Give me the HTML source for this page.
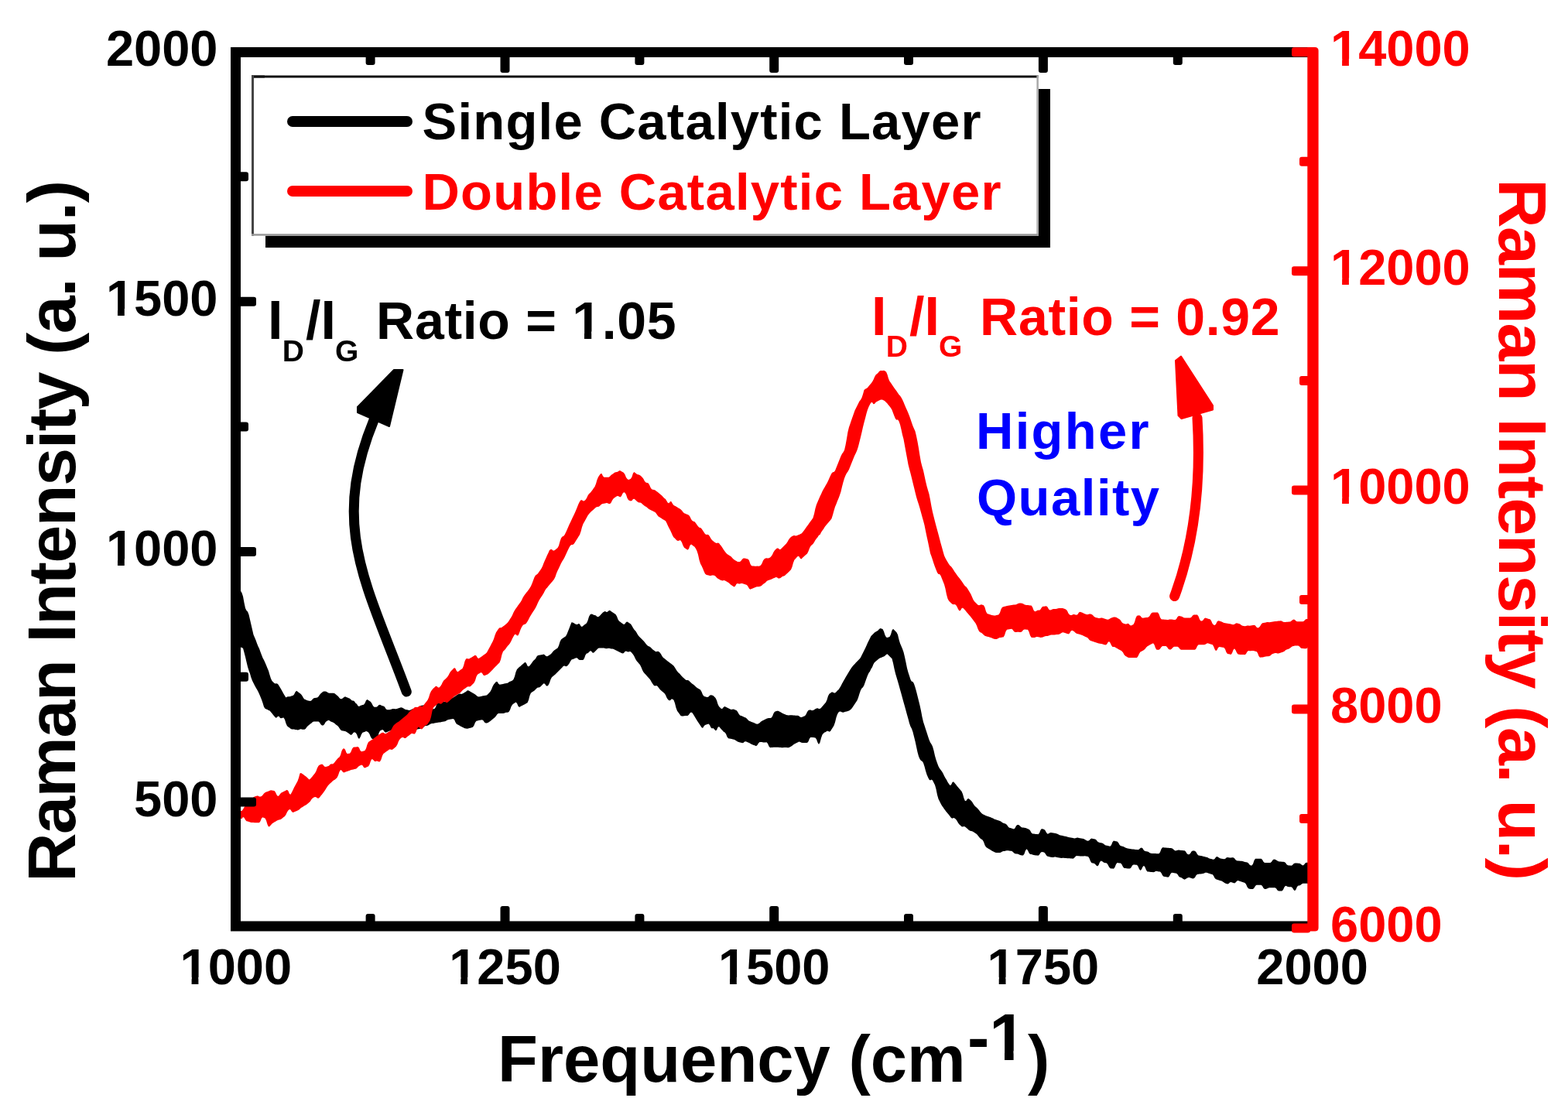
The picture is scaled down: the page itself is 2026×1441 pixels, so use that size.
<!DOCTYPE html>
<html><head><meta charset="utf-8"><title>Raman spectra</title>
<style>
html,body{margin:0;padding:0;background:#fff;overflow:hidden;width:2026px;height:1441px;}
svg{display:block;}
</style></head>
<body>
<svg width="2026" height="1441" viewBox="0 0 2026 1441">
<rect width="2026" height="1441" fill="#fff"/>
<!-- legend -->
<rect x="343" y="115" width="1014" height="205" fill="#000"/>
<rect x="325" y="97.5" width="1017" height="207.2" fill="#fff"/>
<rect x="325" y="97.5" width="16.9" height="3" fill="#111"/><rect x="325" y="97.5" width="1016.9" height="3" fill="#111"/>
<rect x="325" y="97.5" width="3" height="207.2" fill="#444"/>
<rect x="1339.4" y="97.5" width="2.5" height="207.2" fill="#aaa"/>
<rect x="325" y="302.2" width="1016.9" height="2.5" fill="#999"/>
<line x1="378" y1="157" x2="526" y2="157" stroke="#000" stroke-width="14" stroke-linecap="round"/>
<line x1="378" y1="247" x2="526" y2="247" stroke="#f00" stroke-width="14" stroke-linecap="round"/>
<g font-family="'Liberation Sans', Arial, sans-serif" font-weight="bold" font-size="67" letter-spacing="1.23">
<text x="545.5" y="180">Single Catalytic Layer</text>
<text x="545.5" y="271" fill="#f00">Double Catalytic Layer</text>
</g>
<!-- data -->
<g stroke-width="14" stroke-linejoin="round" stroke-linecap="round">
<polygon fill="#000" points="305.0,759.3 306.5,760.7 308.0,761.7 309.5,762.7 311.0,763.7 312.5,766.3 314.0,770.7 315.5,779.1 317.0,785.9 318.5,789.1 320.0,790.4 321.5,794.2 323.0,800.7 324.5,807.2 326.0,813.7 327.5,820.2 329.0,823.7 330.5,827.3 332.0,831.6 333.5,835.2 335.0,838.2 336.5,842.4 338.0,846.6 339.5,850.2 341.0,853.0 342.5,856.2 344.0,859.8 345.5,863.4 347.0,867.0 348.5,872.2 350.0,877.0 351.5,880.1 353.0,881.6 354.5,883.1 356.0,883.6 357.5,883.3 359.0,884.1 360.5,886.2 362.0,888.7 363.5,891.3 365.0,893.9 366.5,896.7 368.0,899.3 369.5,901.4 371.0,900.6 372.5,900.2 374.0,900.3 375.5,899.9 377.0,899.3 378.5,899.0 380.0,897.4 381.5,894.4 383.0,892.8 384.5,893.7 386.0,894.9 387.5,896.0 389.0,897.2 390.5,899.3 392.0,902.0 393.5,903.7 395.0,904.3 396.5,905.0 398.0,905.4 399.5,905.7 401.0,906.0 402.5,905.3 404.0,903.5 405.5,902.3 407.0,902.0 408.5,901.7 410.0,901.4 411.5,900.3 413.0,898.0 414.5,896.2 416.0,895.0 417.5,893.8 419.0,893.4 420.5,893.4 422.0,894.0 423.5,895.1 425.0,895.7 426.5,895.7 428.0,895.8 429.5,895.8 431.0,895.8 432.5,896.3 434.0,897.5 435.5,898.8 437.0,900.0 438.5,902.0 440.0,903.2 441.5,903.3 443.0,902.3 444.5,901.0 446.0,900.3 447.5,900.9 449.0,901.6 450.5,902.2 452.0,902.8 453.5,904.3 455.0,905.4 456.5,905.5 458.0,906.6 459.5,908.7 461.0,909.7 462.5,912.2 464.0,913.0 465.5,912.1 467.0,911.4 468.5,911.1 470.0,910.8 471.5,908.8 473.0,905.2 474.5,904.1 476.0,905.0 477.5,906.0 479.0,906.9 480.5,909.3 482.0,912.2 483.5,913.7 485.0,913.7 486.5,913.7 488.0,912.8 489.5,911.1 491.0,910.7 492.5,911.5 494.0,912.3 495.5,912.4 497.0,913.6 498.5,916.0 500.0,917.2 501.5,917.2 503.0,917.2 504.5,917.1 506.0,916.6 507.5,916.1 509.0,916.0 510.5,916.3 512.0,916.2 513.5,915.8 515.0,915.2 516.5,914.7 518.0,914.2 519.5,914.6 521.0,915.3 522.5,916.3 524.0,917.0 525.5,917.3 527.0,917.6 528.5,918.0 530.0,917.7 531.5,916.9 533.0,916.2 534.5,916.0 536.0,916.3 537.5,917.1 539.0,917.4 540.5,916.0 542.0,913.4 543.5,911.9 545.0,911.7 546.5,911.6 548.0,911.5 549.5,911.4 551.0,912.7 552.5,915.4 554.0,916.7 555.5,916.6 557.0,916.5 558.5,916.4 560.0,916.2 561.5,916.1 563.0,913.8 564.5,909.2 566.0,906.9 567.5,906.8 569.0,906.6 570.5,906.5 572.0,906.3 573.5,906.7 575.0,907.0 576.5,906.7 578.0,905.6 579.5,904.6 581.0,903.6 582.5,902.8 584.0,902.2 585.5,901.4 587.0,900.4 588.5,899.4 590.0,898.5 591.5,897.6 593.0,896.7 594.5,896.5 596.0,896.9 597.5,896.6 599.0,895.7 600.5,894.8 602.0,893.9 603.5,892.5 605.0,892.2 606.5,893.1 608.0,893.9 609.5,894.8 611.0,895.7 612.5,896.6 614.0,897.5 615.5,898.7 617.0,900.0 618.5,900.5 620.0,900.2 621.5,899.9 623.0,899.6 624.5,899.3 626.0,899.0 627.5,898.8 629.0,898.6 630.5,897.1 632.0,895.5 633.5,893.8 635.0,891.1 636.5,887.2 638.0,884.4 639.5,882.8 641.0,881.1 642.5,881.0 644.0,883.6 645.5,884.8 647.0,884.5 648.5,884.2 650.0,883.9 651.5,883.6 653.0,883.3 654.5,883.0 656.0,882.7 657.5,881.6 659.0,880.7 660.5,880.3 662.0,879.4 663.5,877.9 665.0,874.3 666.5,868.6 668.0,865.0 669.5,863.5 671.0,862.1 672.5,860.9 674.0,859.6 675.5,858.3 677.0,857.0 678.5,855.8 680.0,856.9 681.5,860.4 683.0,861.5 684.5,860.2 686.0,858.2 687.5,856.2 689.0,854.1 690.5,852.7 692.0,851.2 693.5,848.6 695.0,847.1 696.5,846.8 698.0,846.5 699.5,846.2 701.0,845.9 702.5,845.6 704.0,846.5 705.5,848.0 707.0,848.3 708.5,847.4 710.0,846.5 711.5,845.6 713.0,844.1 714.5,841.9 716.0,840.4 717.5,839.5 719.0,838.5 720.5,837.4 722.0,834.4 723.5,829.4 725.0,826.4 726.5,825.3 728.0,824.3 729.5,823.2 731.0,822.2 732.5,819.5 734.0,815.7 735.5,811.9 737.0,808.1 738.5,804.2 740.0,804.5 741.5,805.3 743.0,806.3 744.5,807.1 746.0,807.1 747.5,805.9 749.0,806.6 750.5,809.3 752.0,810.0 753.5,808.8 755.0,807.6 756.5,806.4 758.0,805.2 759.5,802.0 761.0,797.1 762.5,794.3 764.0,793.6 765.5,793.7 767.0,794.8 768.5,795.0 770.0,795.4 771.5,796.9 773.0,797.2 774.5,796.3 776.0,794.8 777.5,792.9 779.0,791.4 780.5,790.5 782.0,790.0 783.5,791.1 785.0,790.8 786.5,789.2 788.0,788.8 789.5,789.9 791.0,791.0 792.5,792.0 794.0,793.1 795.5,794.1 797.0,796.5 798.5,800.4 800.0,802.8 801.5,803.8 803.0,804.9 804.5,805.9 806.0,807.0 807.5,806.3 809.0,804.0 810.5,803.4 812.0,804.4 813.5,805.5 815.0,806.5 816.5,808.7 818.0,811.6 819.5,813.8 821.0,815.3 822.5,817.4 824.0,820.2 825.5,822.3 827.0,823.8 828.5,825.3 830.0,826.8 831.5,828.3 833.0,830.1 834.5,832.1 836.0,833.8 837.5,834.9 839.0,835.5 840.5,836.5 842.0,838.0 843.5,839.4 845.0,840.6 846.5,841.8 848.0,842.2 849.5,841.7 851.0,842.0 852.5,843.2 854.0,845.2 855.5,847.9 857.0,849.9 858.5,851.1 860.0,852.3 861.5,853.5 863.0,854.7 864.5,855.8 866.0,856.9 867.5,858.1 869.0,859.3 870.5,860.6 872.0,862.8 873.5,865.3 875.0,867.5 876.5,869.2 878.0,870.5 879.5,872.2 881.0,873.9 882.5,875.4 884.0,876.8 885.5,878.3 887.0,879.0 888.5,878.9 890.0,879.6 891.5,881.1 893.0,882.6 894.5,883.8 896.0,884.7 897.5,886.0 899.0,887.6 900.5,888.8 902.0,889.7 903.5,890.6 905.0,891.5 906.5,893.9 908.0,897.8 909.5,899.8 911.0,900.2 912.5,900.7 914.0,901.1 915.5,900.5 917.0,898.8 918.5,898.2 920.0,898.6 921.5,899.1 923.0,900.5 924.5,902.0 926.0,905.1 927.5,909.9 929.0,913.1 930.5,914.6 932.0,916.0 933.5,915.8 935.0,913.8 936.5,913.1 938.0,913.8 939.5,914.6 941.0,915.3 942.5,916.1 944.0,916.8 945.5,917.0 947.0,916.6 948.5,916.8 950.0,917.4 951.5,918.0 953.0,919.8 954.5,922.6 956.0,924.4 957.5,925.0 959.0,925.6 960.5,926.2 962.0,926.9 963.5,927.6 965.0,928.8 966.5,930.5 968.0,931.7 969.5,932.3 971.0,932.9 972.5,933.5 974.0,934.1 975.5,934.7 977.0,935.6 978.5,935.7 980.0,935.3 981.5,934.2 983.0,932.8 984.5,931.7 986.0,931.0 987.5,930.2 989.0,929.5 990.5,928.7 992.0,928.2 993.5,928.0 995.0,928.0 996.5,927.8 998.0,925.7 999.5,921.9 1001.0,919.8 1002.5,919.3 1004.0,918.8 1005.5,918.8 1007.0,919.4 1008.5,920.2 1010.0,921.3 1011.5,922.1 1013.0,922.7 1014.5,923.3 1016.0,923.9 1017.5,924.3 1019.0,924.4 1020.5,924.2 1022.0,924.2 1023.5,924.2 1025.0,924.4 1026.5,924.6 1028.0,924.8 1029.5,924.8 1031.0,924.8 1032.5,925.6 1034.0,926.8 1035.5,927.1 1037.0,926.4 1038.5,925.8 1040.0,925.2 1041.5,923.3 1043.0,920.0 1044.5,918.1 1046.0,917.5 1047.5,917.5 1049.0,918.2 1050.5,918.1 1052.0,917.2 1053.5,916.3 1055.0,915.4 1056.5,915.3 1058.0,916.0 1059.5,915.9 1061.0,914.7 1062.5,913.0 1064.0,911.2 1065.5,909.5 1067.0,907.8 1068.5,904.4 1070.0,899.4 1071.5,896.7 1073.0,895.7 1074.5,894.6 1076.0,894.6 1077.5,895.6 1079.0,895.6 1080.5,894.3 1082.0,892.6 1083.5,891.3 1085.0,889.1 1086.5,886.4 1088.0,883.5 1089.5,880.7 1091.0,878.2 1092.5,875.6 1094.0,873.1 1095.5,870.5 1097.0,868.0 1098.5,865.5 1100.0,863.2 1101.5,861.2 1103.0,859.6 1104.5,857.9 1106.0,856.2 1107.5,854.7 1109.0,853.2 1110.5,851.7 1112.0,849.7 1113.5,846.7 1115.0,843.7 1116.5,840.7 1118.0,837.7 1119.5,834.5 1121.0,831.1 1122.5,827.9 1124.0,824.9 1125.5,821.9 1127.0,820.4 1128.5,818.9 1130.0,817.4 1131.5,816.4 1133.0,815.8 1134.5,814.7 1136.0,812.9 1137.5,812.1 1139.0,812.5 1140.5,813.1 1142.0,815.9 1143.5,820.8 1145.0,823.6 1146.5,824.0 1148.0,823.5 1149.5,822.9 1151.0,820.0 1152.5,814.7 1154.0,812.7 1155.5,814.2 1157.0,815.7 1158.5,817.2 1160.0,820.2 1161.5,826.4 1163.0,831.4 1164.5,835.0 1166.0,838.5 1167.5,842.7 1169.0,849.1 1170.5,856.1 1172.0,863.6 1173.5,868.9 1175.0,873.6 1176.5,878.2 1178.0,880.7 1179.5,881.1 1181.0,883.7 1182.5,888.3 1184.0,893.5 1185.5,899.5 1187.0,905.5 1188.5,911.5 1190.0,918.6 1191.5,926.6 1193.0,933.0 1194.5,937.6 1196.0,942.2 1197.5,946.8 1199.0,951.4 1200.5,956.0 1202.0,959.4 1203.5,961.7 1205.0,964.8 1206.5,970.1 1208.0,976.8 1209.5,982.1 1211.0,986.2 1212.5,990.2 1214.0,992.9 1215.5,994.9 1217.0,997.0 1218.5,999.6 1220.0,1002.7 1221.5,1005.4 1223.0,1007.8 1224.5,1010.8 1226.0,1013.1 1227.5,1014.9 1229.0,1014.2 1230.5,1010.9 1232.0,1010.2 1233.5,1011.9 1235.0,1013.8 1236.5,1015.7 1238.0,1017.6 1239.5,1019.3 1241.0,1021.1 1242.5,1022.7 1244.0,1026.2 1245.5,1031.8 1247.0,1035.2 1248.5,1034.7 1250.0,1032.4 1251.5,1031.9 1253.0,1033.2 1254.5,1034.6 1256.0,1036.3 1257.5,1038.8 1259.0,1041.1 1260.5,1042.6 1262.0,1043.7 1263.5,1045.2 1265.0,1047.0 1266.5,1048.9 1268.0,1050.7 1269.5,1052.1 1271.0,1052.8 1272.5,1053.5 1274.0,1054.2 1275.5,1054.7 1277.0,1055.3 1278.5,1055.8 1280.0,1056.3 1281.5,1056.9 1283.0,1057.6 1284.5,1058.4 1286.0,1059.1 1287.5,1059.6 1289.0,1060.1 1290.5,1060.5 1292.0,1061.0 1293.5,1061.8 1295.0,1062.9 1296.5,1063.7 1298.0,1064.2 1299.5,1064.7 1301.0,1066.0 1302.5,1068.3 1304.0,1069.7 1305.5,1070.1 1307.0,1070.6 1308.5,1071.0 1310.0,1071.5 1311.5,1070.2 1313.0,1067.2 1314.5,1065.9 1316.0,1066.1 1317.5,1067.0 1319.0,1068.5 1320.5,1069.4 1322.0,1069.6 1323.5,1069.7 1325.0,1069.9 1326.5,1070.4 1328.0,1071.2 1329.5,1071.7 1331.0,1073.2 1332.5,1076.0 1334.0,1077.5 1335.5,1077.6 1337.0,1077.8 1338.5,1077.9 1340.0,1078.1 1341.5,1078.2 1343.0,1076.4 1344.5,1072.8 1346.0,1071.1 1347.5,1071.4 1349.0,1071.7 1350.5,1073.3 1352.0,1076.1 1353.5,1077.7 1355.0,1077.3 1356.5,1076.3 1358.0,1075.9 1359.5,1076.2 1361.0,1076.5 1362.5,1076.8 1364.0,1077.1 1365.5,1077.4 1367.0,1078.0 1368.5,1078.9 1370.0,1079.5 1371.5,1079.8 1373.0,1080.1 1374.5,1080.4 1376.0,1080.7 1377.5,1081.1 1379.0,1081.5 1380.5,1081.9 1382.0,1082.2 1383.5,1082.5 1385.0,1082.8 1386.5,1083.1 1388.0,1083.4 1389.5,1083.2 1391.0,1082.7 1392.5,1082.6 1394.0,1082.9 1395.5,1083.2 1397.0,1083.5 1398.5,1083.8 1400.0,1084.1 1401.5,1084.7 1403.0,1085.8 1404.5,1086.4 1406.0,1086.7 1407.5,1086.0 1409.0,1084.3 1410.5,1083.6 1412.0,1083.9 1413.5,1084.2 1415.0,1084.4 1416.5,1085.5 1418.0,1087.5 1419.5,1088.6 1421.0,1088.9 1422.5,1089.2 1424.0,1089.4 1425.5,1090.3 1427.0,1091.6 1428.5,1092.5 1430.0,1092.8 1431.5,1093.0 1433.0,1093.4 1434.5,1093.7 1436.0,1092.0 1437.5,1088.3 1439.0,1086.6 1440.5,1087.0 1442.0,1087.3 1443.5,1087.6 1445.0,1089.1 1446.5,1091.8 1448.0,1093.3 1449.5,1093.6 1451.0,1093.9 1452.5,1094.5 1454.0,1095.5 1455.5,1096.1 1457.0,1096.4 1458.5,1096.7 1460.0,1097.0 1461.5,1097.3 1463.0,1097.4 1464.5,1097.6 1466.0,1097.8 1467.5,1097.9 1469.0,1098.1 1470.5,1098.2 1472.0,1097.5 1473.5,1096.0 1475.0,1095.4 1476.5,1096.6 1478.0,1098.9 1479.5,1100.1 1481.0,1100.3 1482.5,1100.4 1484.0,1101.1 1485.5,1102.2 1487.0,1102.8 1488.5,1103.0 1490.0,1103.1 1491.5,1103.1 1493.0,1103.1 1494.5,1103.2 1496.0,1103.2 1497.5,1103.3 1499.0,1101.3 1500.5,1097.2 1502.0,1095.2 1503.5,1095.3 1505.0,1095.4 1506.5,1095.5 1508.0,1095.7 1509.5,1095.8 1511.0,1096.0 1512.5,1096.1 1514.0,1096.3 1515.5,1097.1 1517.0,1098.6 1518.5,1099.4 1520.0,1099.3 1521.5,1098.7 1523.0,1098.6 1524.5,1098.7 1526.0,1098.9 1527.5,1099.0 1529.0,1099.2 1530.5,1099.3 1532.0,1100.6 1533.5,1102.9 1535.0,1104.2 1536.5,1104.3 1538.0,1103.1 1539.5,1100.6 1541.0,1099.4 1542.5,1099.6 1544.0,1099.7 1545.5,1101.2 1547.0,1104.1 1548.5,1105.6 1550.0,1105.7 1551.5,1105.9 1553.0,1106.2 1554.5,1106.8 1556.0,1107.1 1557.5,1107.4 1559.0,1107.7 1560.5,1108.3 1562.0,1109.2 1563.5,1109.8 1565.0,1110.1 1566.5,1110.4 1568.0,1110.7 1569.5,1109.9 1571.0,1107.8 1572.5,1107.0 1574.0,1107.7 1575.5,1108.7 1577.0,1109.4 1578.5,1109.7 1580.0,1110.0 1581.5,1110.3 1583.0,1109.9 1584.5,1108.6 1586.0,1108.1 1587.5,1108.3 1589.0,1108.4 1590.5,1108.4 1592.0,1108.3 1593.5,1108.3 1595.0,1109.3 1596.5,1111.2 1598.0,1112.2 1599.5,1112.4 1601.0,1112.5 1602.5,1112.7 1604.0,1112.8 1605.5,1113.0 1607.0,1113.4 1608.5,1114.0 1610.0,1114.3 1611.5,1114.5 1613.0,1115.6 1614.5,1117.6 1616.0,1118.6 1617.5,1118.6 1619.0,1116.4 1620.5,1112.0 1622.0,1109.8 1623.5,1109.8 1625.0,1109.8 1626.5,1109.8 1628.0,1109.8 1629.5,1109.8 1631.0,1111.1 1632.5,1113.7 1634.0,1115.0 1635.5,1115.0 1637.0,1115.0 1638.5,1115.0 1640.0,1115.0 1641.5,1115.0 1643.0,1113.8 1644.5,1111.6 1646.0,1110.5 1647.5,1110.7 1649.0,1111.4 1650.5,1112.6 1652.0,1113.2 1653.5,1113.4 1655.0,1113.5 1656.5,1113.7 1658.0,1113.8 1659.5,1113.9 1661.0,1115.1 1662.5,1117.2 1664.0,1118.3 1665.5,1118.4 1667.0,1118.6 1668.5,1118.7 1670.0,1118.0 1671.5,1116.3 1673.0,1115.6 1674.5,1115.6 1676.0,1115.6 1677.5,1115.7 1679.0,1115.7 1680.5,1116.4 1682.0,1117.7 1683.5,1118.4 1685.0,1117.5 1686.5,1115.6 1688.0,1114.7 1689.5,1114.8 1691.0,1114.8 1692.5,1114.8 1694.0,1114.1 1694.0,1149.6 1692.5,1147.0 1691.0,1143.6 1689.5,1141.8 1688.0,1141.8 1686.5,1141.8 1685.0,1141.8 1683.5,1141.8 1682.0,1142.5 1680.5,1143.7 1679.0,1144.4 1677.5,1144.4 1676.0,1146.1 1674.5,1149.6 1673.0,1151.3 1671.5,1150.1 1670.0,1147.6 1668.5,1146.3 1667.0,1146.3 1665.5,1146.3 1664.0,1145.9 1662.5,1145.2 1661.0,1144.8 1659.5,1146.5 1658.0,1149.7 1656.5,1151.4 1655.0,1151.4 1653.5,1151.4 1652.0,1151.4 1650.5,1150.4 1649.0,1148.3 1647.5,1147.2 1646.0,1147.2 1644.5,1147.2 1643.0,1147.2 1641.5,1147.2 1640.0,1147.2 1638.5,1147.7 1637.0,1148.5 1635.5,1149.0 1634.0,1149.0 1632.5,1147.7 1631.0,1145.1 1629.5,1143.8 1628.0,1143.8 1626.5,1143.8 1625.0,1143.8 1623.5,1143.8 1622.0,1145.1 1620.5,1147.6 1619.0,1148.9 1617.5,1148.9 1616.0,1148.9 1614.5,1148.8 1613.0,1148.3 1611.5,1146.3 1610.0,1142.8 1608.5,1140.9 1607.0,1140.4 1605.5,1139.9 1604.0,1139.4 1602.5,1138.9 1601.0,1138.4 1599.5,1138.0 1598.0,1138.7 1596.5,1140.6 1595.0,1141.4 1593.5,1140.9 1592.0,1140.5 1590.5,1140.0 1589.0,1140.5 1587.5,1141.9 1586.0,1142.4 1584.5,1141.9 1583.0,1141.4 1581.5,1140.6 1580.0,1139.5 1578.5,1138.6 1577.0,1138.2 1575.5,1137.7 1574.0,1137.3 1572.5,1136.8 1571.0,1136.3 1569.5,1134.7 1568.0,1131.8 1566.5,1130.1 1565.0,1129.7 1563.5,1129.2 1562.0,1128.7 1560.5,1128.3 1559.0,1127.8 1557.5,1127.8 1556.0,1128.5 1554.5,1129.1 1553.0,1129.3 1551.5,1129.4 1550.0,1129.6 1548.5,1129.7 1547.0,1129.9 1545.5,1131.3 1544.0,1133.9 1542.5,1135.2 1541.0,1135.4 1539.5,1135.1 1538.0,1134.4 1536.5,1134.1 1535.0,1134.3 1533.5,1134.9 1532.0,1136.0 1530.5,1136.7 1529.0,1136.1 1527.5,1134.9 1526.0,1134.0 1524.5,1133.7 1523.0,1132.4 1521.5,1130.0 1520.0,1128.7 1518.5,1128.5 1517.0,1128.2 1515.5,1128.0 1514.0,1127.7 1512.5,1129.2 1511.0,1132.3 1509.5,1133.8 1508.0,1133.5 1506.5,1133.3 1505.0,1133.0 1503.5,1132.8 1502.0,1131.2 1500.5,1128.2 1499.0,1126.6 1497.5,1126.5 1496.0,1126.3 1494.5,1125.8 1493.0,1126.0 1491.5,1127.1 1490.0,1127.3 1488.5,1127.1 1487.0,1126.9 1485.5,1126.8 1484.0,1126.6 1482.5,1126.5 1481.0,1124.5 1479.5,1120.7 1478.0,1118.7 1476.5,1120.3 1475.0,1123.5 1473.5,1125.1 1472.0,1123.2 1470.5,1119.7 1469.0,1117.8 1467.5,1117.7 1466.0,1117.5 1464.5,1117.4 1463.0,1118.6 1461.5,1121.3 1460.0,1122.6 1458.5,1122.5 1457.0,1122.4 1455.5,1122.2 1454.0,1122.1 1452.5,1122.0 1451.0,1120.3 1449.5,1117.2 1448.0,1115.5 1446.5,1115.4 1445.0,1115.3 1443.5,1115.1 1442.0,1117.0 1440.5,1120.8 1439.0,1122.7 1437.5,1122.6 1436.0,1122.4 1434.5,1122.3 1433.0,1120.6 1431.5,1117.4 1430.0,1115.5 1428.5,1115.2 1427.0,1114.9 1425.5,1114.2 1424.0,1113.1 1422.5,1112.4 1421.0,1114.2 1419.5,1117.9 1418.0,1119.6 1416.5,1118.6 1415.0,1116.8 1413.5,1115.8 1412.0,1115.5 1410.5,1115.2 1409.0,1113.1 1407.5,1109.2 1406.0,1107.1 1404.5,1106.8 1403.0,1106.5 1401.5,1106.3 1400.0,1106.4 1398.5,1106.6 1397.0,1106.6 1395.5,1106.5 1394.0,1106.3 1392.5,1106.2 1391.0,1106.0 1389.5,1106.9 1388.0,1108.8 1386.5,1109.7 1385.0,1109.5 1383.5,1109.4 1382.0,1109.3 1380.5,1109.3 1379.0,1109.2 1377.5,1109.1 1376.0,1108.9 1374.5,1108.8 1373.0,1108.8 1371.5,1108.9 1370.0,1108.8 1368.5,1108.5 1367.0,1108.2 1365.5,1107.9 1364.0,1107.6 1362.5,1107.6 1361.0,1108.0 1359.5,1108.0 1358.0,1107.7 1356.5,1107.4 1355.0,1107.1 1353.5,1106.8 1352.0,1105.4 1350.5,1103.0 1349.0,1101.6 1347.5,1101.3 1346.0,1101.0 1344.5,1102.0 1343.0,1104.6 1341.5,1105.8 1340.0,1105.6 1338.5,1105.5 1337.0,1105.3 1335.5,1105.0 1334.0,1104.5 1332.5,1104.1 1331.0,1104.0 1329.5,1102.2 1328.0,1098.9 1326.5,1097.2 1325.0,1099.2 1323.5,1103.5 1322.0,1105.5 1320.5,1105.4 1319.0,1105.2 1317.5,1104.8 1316.0,1104.0 1314.5,1103.5 1313.0,1103.4 1311.5,1103.2 1310.0,1102.3 1308.5,1100.7 1307.0,1099.8 1305.5,1099.7 1304.0,1099.5 1302.5,1099.3 1301.0,1099.2 1299.5,1099.4 1298.0,1099.9 1296.5,1100.1 1295.0,1100.5 1293.5,1101.5 1292.0,1102.0 1290.5,1101.9 1289.0,1102.0 1287.5,1101.9 1286.0,1101.8 1284.5,1101.1 1283.0,1100.2 1281.5,1099.4 1280.0,1098.5 1278.5,1097.6 1277.0,1096.8 1275.5,1095.8 1274.0,1094.7 1272.5,1092.2 1271.0,1088.1 1269.5,1085.6 1268.0,1084.5 1266.5,1083.5 1265.0,1081.8 1263.5,1079.7 1262.0,1078.1 1260.5,1077.0 1259.0,1075.9 1257.5,1074.9 1256.0,1074.3 1254.5,1074.1 1253.0,1073.5 1251.5,1072.4 1250.0,1071.1 1248.5,1069.8 1247.0,1068.4 1245.5,1068.0 1244.0,1068.6 1242.5,1068.2 1241.0,1066.8 1239.5,1065.4 1238.0,1063.4 1236.5,1060.7 1235.0,1058.7 1233.5,1057.4 1232.0,1057.1 1230.5,1057.7 1229.0,1056.9 1227.5,1055.0 1226.0,1053.1 1224.5,1051.2 1223.0,1049.4 1221.5,1047.5 1220.0,1045.5 1218.5,1043.3 1217.0,1041.3 1215.5,1038.5 1214.0,1035.5 1212.5,1032.5 1211.0,1027.2 1209.5,1019.7 1208.0,1014.4 1206.5,1011.4 1205.0,1008.4 1203.5,1007.4 1202.0,1008.4 1200.5,1007.4 1199.0,1004.4 1197.5,1000.9 1196.0,996.3 1194.5,990.6 1193.0,986.0 1191.5,983.8 1190.0,983.1 1188.5,981.0 1187.0,977.5 1185.5,972.1 1184.0,964.9 1182.5,958.1 1181.0,952.1 1179.5,946.1 1178.0,941.7 1176.5,939.1 1175.0,934.7 1173.5,929.1 1172.0,923.7 1170.5,918.2 1169.0,912.8 1167.5,907.4 1166.0,902.0 1164.5,896.6 1163.0,891.3 1161.5,885.7 1160.0,880.4 1158.5,875.4 1157.0,870.4 1155.5,864.2 1154.0,857.0 1152.5,851.2 1151.0,849.8 1149.5,848.3 1148.0,846.8 1146.5,845.3 1145.0,846.0 1143.5,847.4 1142.0,848.4 1140.5,849.0 1139.0,849.7 1137.5,850.3 1136.0,851.1 1134.5,852.3 1133.0,853.5 1131.5,854.8 1130.0,856.0 1128.5,858.5 1127.0,862.2 1125.5,864.6 1124.0,867.7 1122.5,869.8 1121.0,872.9 1119.5,877.1 1118.0,881.3 1116.5,885.5 1115.0,888.2 1113.5,889.5 1112.0,892.2 1110.5,896.4 1109.0,901.6 1107.5,905.3 1106.0,907.6 1104.5,909.8 1103.0,912.1 1101.5,914.3 1100.0,916.2 1098.5,917.6 1097.0,918.4 1095.5,918.9 1094.0,919.4 1092.5,919.8 1091.0,920.3 1089.5,920.8 1088.0,920.6 1086.5,919.7 1085.0,919.5 1083.5,920.5 1082.0,922.9 1080.5,927.2 1079.0,933.5 1077.5,937.8 1076.0,940.2 1074.5,942.6 1073.0,945.0 1071.5,945.7 1070.0,944.7 1068.5,944.8 1067.0,945.9 1065.5,946.6 1064.0,947.8 1062.5,949.5 1061.0,953.8 1059.5,959.5 1058.0,961.9 1056.5,959.7 1055.0,955.5 1053.5,953.4 1052.0,953.2 1050.5,953.1 1049.0,952.9 1047.5,952.8 1046.0,954.5 1044.5,958.2 1043.0,960.1 1041.5,960.1 1040.0,960.1 1038.5,960.1 1037.0,960.1 1035.5,959.7 1034.0,958.9 1032.5,958.6 1031.0,959.3 1029.5,960.1 1028.0,960.8 1026.5,961.6 1025.0,962.6 1023.5,963.7 1022.0,964.7 1020.5,965.5 1019.0,966.2 1017.5,966.2 1016.0,966.0 1014.5,965.9 1013.0,965.9 1011.5,966.2 1010.0,966.2 1008.5,966.0 1007.0,965.9 1005.5,965.7 1004.0,965.8 1002.5,965.8 1001.0,965.7 999.5,965.8 998.0,965.9 996.5,966.1 995.0,966.2 993.5,964.5 992.0,961.0 990.5,959.3 989.0,959.4 987.5,959.6 986.0,959.4 984.5,959.1 983.0,959.0 981.5,959.1 980.0,960.5 978.5,963.0 977.0,964.2 975.5,963.6 974.0,963.0 972.5,962.4 971.0,961.8 969.5,961.1 968.0,960.1 966.5,959.4 965.0,958.8 963.5,958.2 962.0,958.6 960.5,959.9 959.0,960.3 957.5,959.8 956.0,959.4 954.5,958.9 953.0,958.5 951.5,957.6 950.0,956.4 948.5,955.7 947.0,955.4 945.5,955.1 944.0,954.8 942.5,954.5 941.0,954.2 939.5,952.2 938.0,948.5 936.5,946.5 935.0,945.7 933.5,944.1 932.0,942.4 930.5,940.8 929.0,939.1 927.5,940.0 926.0,943.4 924.5,944.2 923.0,942.6 921.5,941.1 920.0,941.5 918.5,940.2 917.0,936.9 915.5,935.6 914.0,936.0 912.5,936.5 911.0,936.9 909.5,938.4 908.0,940.9 906.5,940.0 905.0,937.8 903.5,935.5 902.0,933.3 900.5,931.0 899.0,928.6 897.5,925.9 896.0,923.4 894.5,921.2 893.0,920.4 891.5,921.5 890.0,923.7 888.5,924.9 887.0,925.0 885.5,925.1 884.0,925.3 882.5,925.4 881.0,925.6 879.5,924.9 878.0,922.8 876.5,920.7 875.0,918.7 873.5,914.7 872.0,908.7 870.5,904.7 869.0,903.4 867.5,903.6 866.0,905.2 864.5,905.3 863.0,904.1 861.5,901.8 860.0,898.3 858.5,896.0 857.0,894.8 855.5,893.5 854.0,892.3 852.5,890.7 851.0,888.8 849.5,886.8 848.0,886.1 846.5,886.6 845.0,885.9 843.5,883.9 842.0,881.7 840.5,879.1 839.0,877.0 837.5,875.4 836.0,873.7 834.5,872.1 833.0,870.4 831.5,868.8 830.0,866.1 828.5,862.2 827.0,859.3 825.5,857.5 824.0,855.7 822.5,853.9 821.0,851.4 819.5,848.3 818.0,845.8 816.5,844.0 815.0,842.2 813.5,841.9 812.0,842.4 810.5,842.2 809.0,841.5 807.5,842.1 806.0,844.0 804.5,844.6 803.0,843.9 801.5,843.2 800.0,842.4 798.5,841.7 797.0,841.0 795.5,840.2 794.0,839.5 792.5,838.7 791.0,838.4 789.5,838.4 788.0,838.0 786.5,837.8 785.0,838.1 783.5,838.2 782.0,837.9 780.5,837.6 779.0,837.6 777.5,837.6 776.0,837.6 774.5,837.5 773.0,837.7 771.5,839.2 770.0,840.7 768.5,842.2 767.0,843.7 765.5,843.5 764.0,841.5 762.5,841.3 761.0,842.8 759.5,844.3 758.0,844.4 756.5,846.5 755.0,850.8 753.5,853.0 752.0,853.0 750.5,853.0 749.0,853.0 747.5,852.2 746.0,850.6 744.5,850.2 743.0,850.8 741.5,851.4 740.0,852.0 738.5,852.6 737.0,854.7 735.5,857.4 734.0,859.5 732.5,861.0 731.0,861.2 729.5,860.4 728.0,860.8 726.5,862.4 725.0,864.1 723.5,865.6 722.0,866.9 720.5,868.4 719.0,870.0 717.5,871.6 716.0,872.8 714.5,874.0 713.0,875.2 711.5,878.1 710.0,882.6 708.5,885.5 707.0,886.7 705.5,886.1 704.0,883.7 702.5,883.3 701.0,884.8 699.5,886.3 698.0,887.8 696.5,888.6 695.0,888.6 693.5,889.4 692.0,890.9 690.5,892.4 689.0,893.5 687.5,894.5 686.0,895.5 684.5,898.9 683.0,904.8 681.5,908.2 680.0,909.1 678.5,910.0 677.0,910.7 675.5,911.4 674.0,912.2 672.5,913.1 671.0,913.9 669.5,912.6 668.0,908.9 666.5,907.5 665.0,908.6 663.5,909.6 662.0,910.7 660.5,913.3 659.0,917.4 657.5,920.0 656.0,920.7 654.5,920.7 653.0,921.0 651.5,921.7 650.0,922.1 648.5,922.1 647.0,922.1 645.5,922.1 644.0,922.1 642.5,922.9 641.0,925.3 639.5,927.1 638.0,928.3 636.5,929.5 635.0,930.7 633.5,931.9 632.0,933.1 630.5,934.0 629.0,934.5 627.5,934.5 626.0,933.5 624.5,931.2 623.0,930.2 621.5,930.5 620.0,930.8 618.5,931.1 617.0,931.4 615.5,931.7 614.0,933.8 612.5,937.6 611.0,939.7 609.5,940.2 608.0,940.7 606.5,941.1 605.0,941.6 603.5,941.7 602.0,941.6 600.5,941.3 599.0,940.6 597.5,939.8 596.0,939.1 594.5,938.2 593.0,937.3 591.5,936.4 590.0,935.7 588.5,933.5 587.0,930.0 585.5,928.9 584.0,929.2 582.5,929.5 581.0,929.7 579.5,930.0 578.0,930.6 576.5,931.6 575.0,932.2 573.5,932.4 572.0,932.7 570.5,933.0 569.0,933.4 567.5,933.6 566.0,933.8 564.5,934.0 563.0,934.3 561.5,934.6 560.0,934.9 558.5,935.1 557.0,935.3 555.5,935.9 554.0,937.1 552.5,937.7 551.0,937.9 549.5,938.0 548.0,938.9 546.5,940.5 545.0,941.4 543.5,941.7 542.0,942.0 540.5,942.3 539.0,942.6 537.5,943.2 536.0,944.1 534.5,944.7 533.0,945.0 531.5,945.3 530.0,945.5 528.5,945.6 527.0,945.8 525.5,943.8 524.0,939.8 522.5,937.9 521.0,938.1 519.5,938.2 518.0,939.4 516.5,941.6 515.0,942.8 513.5,943.0 512.0,943.3 510.5,943.5 509.0,943.7 507.5,943.9 506.0,944.0 504.5,944.2 503.0,944.7 501.5,945.4 500.0,946.1 498.5,946.7 497.0,946.0 495.5,943.8 494.0,943.1 492.5,943.7 491.0,944.4 489.5,947.6 488.0,953.4 486.5,956.0 485.0,955.6 483.5,955.3 482.0,955.0 480.5,954.7 479.0,952.4 477.5,948.7 476.0,946.4 474.5,945.5 473.0,945.1 471.5,945.7 470.0,946.2 468.5,946.8 467.0,949.0 465.5,952.8 464.0,955.0 462.5,953.2 461.0,948.9 459.5,947.0 458.0,946.3 456.5,947.1 455.0,949.1 453.5,949.9 452.0,948.9 450.5,947.7 449.0,946.7 447.5,945.8 446.0,945.0 444.5,944.7 443.0,944.4 441.5,944.2 440.0,943.2 438.5,941.0 437.0,938.8 435.5,937.6 434.0,936.4 432.5,935.1 431.0,934.0 429.5,933.2 428.0,932.8 426.5,932.0 425.0,930.8 423.5,931.3 422.0,931.9 420.5,933.5 419.0,936.2 417.5,937.6 416.0,937.6 414.5,936.3 413.0,933.7 411.5,932.4 410.0,932.4 408.5,932.4 407.0,932.4 405.5,932.6 404.0,933.1 402.5,934.4 401.0,935.6 399.5,936.7 398.0,937.9 396.5,939.5 395.0,941.7 393.5,942.7 392.0,942.7 390.5,942.7 389.0,942.3 387.5,942.4 386.0,943.3 384.5,943.5 383.0,943.1 381.5,942.9 380.0,942.6 378.5,942.4 377.0,942.4 375.5,941.8 374.0,940.6 372.5,939.5 371.0,938.3 369.5,934.9 368.0,930.1 366.5,927.5 365.0,927.7 363.5,928.3 362.0,927.9 360.5,925.8 359.0,925.7 357.5,927.6 356.0,927.6 354.5,925.7 353.0,923.9 351.5,922.1 350.0,920.3 348.5,918.5 347.0,917.9 345.5,917.1 344.0,916.4 342.5,915.8 341.0,913.4 339.5,908.5 338.0,904.3 336.5,900.6 335.0,897.0 333.5,893.8 332.0,891.1 330.5,888.5 329.0,885.8 327.5,882.7 326.0,879.7 324.5,875.7 323.0,870.6 321.5,866.5 320.0,861.8 318.5,855.4 317.0,849.1 315.5,843.2 314.0,837.7 312.5,837.1 311.0,836.6 309.5,836.1 308.0,835.6 306.5,835.1 305.0,836.0"/>
<polygon fill="#f00" points="305.0,1045.3 306.5,1047.5 308.0,1047.6 309.5,1047.8 311.0,1047.9 312.5,1048.0 314.0,1046.1 315.5,1043.2 317.0,1041.2 318.5,1040.2 320.0,1039.1 321.5,1038.1 323.0,1037.0 324.5,1034.9 326.0,1031.9 327.5,1030.2 329.0,1029.6 330.5,1029.0 332.0,1028.4 333.5,1028.6 335.0,1029.4 336.5,1029.6 338.0,1029.0 339.5,1027.6 341.0,1025.5 342.5,1024.2 344.0,1023.6 345.5,1023.0 347.0,1022.4 348.5,1021.8 350.0,1021.2 351.5,1021.5 353.0,1021.8 354.5,1022.1 356.0,1023.9 357.5,1027.2 359.0,1029.0 360.5,1028.2 362.0,1026.1 363.5,1024.6 365.0,1023.8 366.5,1023.0 368.0,1022.3 369.5,1021.5 371.0,1020.7 372.5,1022.2 374.0,1025.9 375.5,1026.7 377.0,1024.0 378.5,1021.1 380.0,1017.8 381.5,1014.9 383.0,1012.2 384.5,1009.5 386.0,1005.2 387.5,999.6 389.0,999.1 390.5,1000.1 392.0,1001.1 393.5,1002.2 395.0,1003.2 396.5,1004.5 398.0,1006.1 399.5,1007.4 401.0,1006.6 402.5,1004.8 404.0,1002.9 405.5,1001.1 407.0,999.3 408.5,996.5 410.0,992.6 411.5,989.8 413.0,988.5 414.5,988.1 416.0,987.6 417.5,988.4 419.0,990.4 420.5,991.1 422.0,990.7 423.5,990.3 425.0,989.8 426.5,988.0 428.0,987.2 429.5,987.5 431.0,986.8 432.5,984.9 434.0,983.1 435.5,981.3 437.0,979.5 438.5,978.6 440.0,975.7 441.5,970.6 443.0,967.8 444.5,967.2 446.0,968.8 447.5,972.7 449.0,974.3 450.5,973.8 452.0,973.7 453.5,971.6 455.0,967.7 456.5,965.7 458.0,965.5 459.5,965.4 461.0,965.2 462.5,965.1 464.0,966.5 465.5,969.9 467.0,971.3 468.5,970.9 470.0,970.4 471.5,970.0 473.0,967.2 474.5,962.2 476.0,959.1 477.5,958.0 479.0,957.0 480.5,955.9 482.0,954.9 483.5,953.8 485.0,952.7 486.5,951.6 488.0,950.6 489.5,949.6 491.0,948.6 492.5,947.6 494.0,946.7 495.5,946.8 497.0,948.1 498.5,948.3 500.0,947.3 501.5,946.3 503.0,945.4 504.5,944.3 506.0,942.2 507.5,939.3 509.0,937.1 510.5,935.8 512.0,934.5 513.5,933.4 515.0,932.7 516.5,931.6 518.0,930.3 519.5,929.1 521.0,927.8 522.5,926.6 524.0,925.3 525.5,924.1 527.0,922.5 528.5,920.5 530.0,918.9 531.5,917.7 533.0,916.5 534.5,915.3 536.0,914.1 537.5,913.7 539.0,913.9 540.5,913.5 542.0,912.3 543.5,912.2 545.0,913.1 546.5,912.5 548.0,910.6 549.5,908.6 551.0,906.7 552.5,904.8 554.0,901.4 555.5,896.6 557.0,893.2 558.5,891.3 560.0,889.6 561.5,888.2 563.0,886.8 564.5,886.9 566.0,888.4 567.5,888.5 569.0,887.1 570.5,884.8 572.0,881.6 573.5,879.3 575.0,877.9 576.5,876.4 578.0,874.9 579.5,872.7 581.0,869.8 582.5,867.6 584.0,866.1 585.5,864.6 587.0,863.1 588.5,864.1 590.0,867.2 591.5,868.2 593.0,867.2 594.5,866.1 596.0,865.1 597.5,864.0 599.0,860.6 600.5,854.7 602.0,851.4 603.5,851.1 605.0,851.5 606.5,851.2 608.0,850.3 609.5,849.4 611.0,848.5 612.5,847.6 614.0,846.7 615.5,847.6 617.0,850.2 618.5,851.0 620.0,849.9 621.5,848.9 623.0,847.9 624.5,846.8 626.0,845.8 627.5,844.7 629.0,843.3 630.5,840.4 632.0,837.7 633.5,834.9 635.0,832.1 636.5,829.3 638.0,825.7 639.5,820.9 641.0,817.3 642.5,815.0 644.0,812.7 645.5,811.3 647.0,811.3 648.5,810.7 650.0,809.5 651.5,808.4 653.0,807.2 654.5,806.0 656.0,804.6 657.5,802.4 659.0,800.0 660.5,797.8 662.0,795.0 663.5,791.6 665.0,788.8 666.5,786.6 668.0,784.4 669.5,782.3 671.0,780.3 672.5,778.3 674.0,775.7 675.5,772.6 677.0,770.0 678.5,768.0 680.0,766.1 681.5,764.2 683.0,762.2 684.5,760.0 686.0,757.6 687.5,754.1 689.0,750.0 690.5,745.9 692.0,743.4 693.5,742.4 695.0,741.3 696.5,739.1 698.0,737.0 699.5,734.8 701.0,731.8 702.5,727.8 704.0,724.2 705.5,720.9 707.0,717.6 708.5,714.4 710.0,711.1 711.5,709.9 713.0,710.0 714.5,711.4 716.0,711.6 717.5,710.4 719.0,709.2 720.5,708.1 722.0,705.2 723.5,699.7 725.0,695.4 726.5,693.6 728.0,693.1 729.5,691.3 731.0,688.3 732.5,685.0 734.0,681.4 735.5,678.1 737.0,674.9 738.5,671.7 740.0,668.5 741.5,665.4 743.0,662.2 744.5,658.7 746.0,654.9 747.5,651.3 749.0,648.2 750.5,646.3 752.0,646.2 753.5,647.4 755.0,647.3 756.5,646.0 758.0,643.7 759.5,640.6 761.0,638.3 762.5,636.9 764.0,635.2 765.5,633.2 767.0,631.1 768.5,629.0 770.0,625.3 771.5,620.1 773.0,616.4 774.5,614.3 776.0,612.2 777.5,612.1 779.0,615.2 780.5,616.7 782.0,616.7 783.5,616.7 785.0,616.7 786.5,616.7 788.0,615.8 789.5,613.9 791.0,613.0 792.5,611.9 794.0,610.8 795.5,610.2 797.0,610.0 798.5,609.4 800.0,608.3 801.5,608.3 803.0,609.2 804.5,610.1 806.0,611.1 807.5,613.3 809.0,616.9 810.5,619.1 812.0,620.0 813.5,619.4 815.0,618.8 816.5,616.2 818.0,611.6 819.5,609.9 821.0,611.3 822.5,612.6 824.0,613.3 825.5,613.4 827.0,614.2 828.5,615.5 830.0,616.9 831.5,619.1 833.0,622.1 834.5,623.4 836.0,623.9 837.5,624.3 839.0,626.4 840.5,630.1 842.0,632.2 843.5,632.7 845.0,633.1 846.5,633.5 848.0,634.7 849.5,635.8 851.0,637.0 852.5,638.2 854.0,639.4 855.5,640.8 857.0,642.5 858.5,643.9 860.0,645.1 861.5,647.4 863.0,650.0 864.5,650.3 866.0,648.1 867.5,648.3 869.0,651.0 870.5,653.0 872.0,653.8 873.5,654.6 875.0,655.5 876.5,656.4 878.0,657.3 879.5,658.2 881.0,659.7 882.5,661.8 884.0,663.2 885.5,663.8 887.0,664.4 888.5,665.1 890.0,665.7 891.5,667.7 893.0,671.1 894.5,673.1 896.0,673.7 897.5,674.3 899.0,676.1 900.5,678.2 902.0,680.3 903.5,681.7 905.0,682.0 906.5,683.3 908.0,685.6 909.5,687.8 911.0,690.1 912.5,691.0 914.0,690.7 915.5,691.2 917.0,693.2 918.5,696.0 920.0,698.0 921.5,699.2 923.0,700.4 924.5,701.6 926.0,701.9 927.5,701.4 929.0,702.1 930.5,703.9 932.0,705.7 933.5,707.9 935.0,710.4 936.5,712.6 938.0,714.4 939.5,716.1 941.0,717.0 942.5,717.9 944.0,718.8 945.5,720.2 947.0,722.0 948.5,723.3 950.0,724.2 951.5,725.1 953.0,726.0 954.5,726.1 956.0,725.9 957.5,724.8 959.0,722.7 960.5,721.6 962.0,721.5 963.5,721.7 965.0,722.2 966.5,722.4 968.0,724.6 969.5,729.0 971.0,731.3 972.5,731.5 974.0,731.6 975.5,731.8 977.0,731.8 978.5,731.6 980.0,731.7 981.5,731.5 983.0,730.6 984.5,728.3 986.0,724.6 987.5,722.4 989.0,721.5 990.5,721.2 992.0,721.6 993.5,721.3 995.0,720.4 996.5,719.1 998.0,716.8 999.5,713.5 1001.0,711.2 1002.5,709.8 1004.0,708.5 1005.5,708.5 1007.0,709.9 1008.5,709.9 1010.0,708.4 1011.5,706.9 1013.0,705.4 1014.5,703.9 1016.0,702.4 1017.5,700.3 1019.0,697.5 1020.5,695.4 1022.0,693.9 1023.5,692.9 1025.0,692.3 1026.5,692.1 1028.0,692.4 1029.5,692.2 1031.0,691.6 1032.5,691.0 1034.0,690.3 1035.5,689.4 1037.0,688.1 1038.5,686.0 1040.0,683.9 1041.5,681.8 1043.0,679.7 1044.5,677.7 1046.0,675.6 1047.5,673.5 1049.0,671.4 1050.5,669.2 1052.0,664.0 1053.5,657.1 1055.0,651.9 1056.5,648.4 1058.0,644.9 1059.5,641.5 1061.0,638.4 1062.5,635.0 1064.0,632.3 1065.5,629.8 1067.0,627.1 1068.5,624.4 1070.0,621.4 1071.5,618.0 1073.0,614.8 1074.5,611.8 1076.0,610.2 1077.5,610.0 1079.0,608.3 1080.5,604.6 1082.0,600.8 1083.5,597.0 1085.0,593.3 1086.5,589.4 1088.0,586.6 1089.5,584.6 1091.0,581.7 1092.5,575.2 1094.0,567.1 1095.5,558.1 1097.0,552.1 1098.5,547.7 1100.0,543.3 1101.5,539.0 1103.0,534.7 1104.5,530.5 1106.0,527.5 1107.5,524.6 1109.0,521.6 1110.5,518.6 1112.0,516.8 1113.5,514.1 1115.0,509.6 1116.5,504.0 1118.0,502.8 1119.5,502.1 1121.0,500.9 1122.5,499.1 1124.0,497.3 1125.5,495.5 1127.0,493.5 1128.5,490.8 1130.0,487.3 1131.5,484.5 1133.0,483.2 1134.5,482.1 1136.0,480.0 1137.5,478.9 1139.0,478.9 1140.5,478.9 1142.0,478.7 1143.5,479.4 1145.0,480.6 1146.5,484.0 1148.0,489.3 1149.5,492.7 1151.0,494.7 1152.5,496.9 1154.0,499.2 1155.5,501.4 1157.0,503.6 1158.5,505.4 1160.0,507.7 1161.5,509.9 1163.0,511.6 1164.5,513.8 1166.0,516.6 1167.5,519.8 1169.0,523.4 1170.5,526.9 1172.0,530.3 1173.5,533.8 1175.0,537.4 1176.5,541.8 1178.0,546.2 1179.5,550.6 1181.0,553.9 1182.5,557.2 1184.0,563.5 1185.5,570.8 1187.0,579.2 1188.5,588.8 1190.0,597.3 1191.5,602.9 1193.0,608.1 1194.5,615.0 1196.0,622.1 1197.5,628.2 1199.0,633.4 1200.5,638.6 1202.0,645.9 1203.5,654.4 1205.0,661.7 1206.5,667.7 1208.0,673.7 1209.5,679.6 1211.0,685.0 1212.5,690.6 1214.0,696.3 1215.5,701.9 1217.0,707.3 1218.5,712.8 1220.0,718.0 1221.5,721.3 1223.0,724.1 1224.5,726.6 1226.0,729.0 1227.5,730.9 1229.0,732.3 1230.5,734.2 1232.0,736.6 1233.5,738.9 1235.0,741.1 1236.5,743.3 1238.0,745.2 1239.5,747.0 1241.0,748.9 1242.5,751.1 1244.0,753.2 1245.5,755.5 1247.0,757.4 1248.5,758.6 1250.0,760.5 1251.5,763.0 1253.0,765.5 1254.5,768.1 1256.0,771.4 1257.5,775.0 1259.0,777.3 1260.5,778.8 1262.0,780.3 1263.5,781.8 1265.0,782.3 1266.5,781.8 1268.0,781.3 1269.5,781.7 1271.0,782.2 1272.5,785.0 1274.0,790.3 1275.5,793.1 1277.0,793.6 1278.5,794.0 1280.0,794.5 1281.5,794.9 1283.0,795.2 1284.5,795.4 1286.0,795.6 1287.5,795.1 1289.0,794.7 1290.5,794.2 1292.0,791.7 1293.5,787.2 1295.0,784.7 1296.5,784.3 1298.0,783.8 1299.5,783.4 1301.0,783.1 1302.5,782.8 1304.0,782.5 1305.5,782.2 1307.0,782.0 1308.5,781.8 1310.0,781.6 1311.5,781.4 1313.0,781.2 1314.5,780.5 1316.0,779.7 1317.5,779.5 1319.0,779.6 1320.5,779.8 1322.0,780.3 1323.5,781.3 1325.0,781.8 1326.5,782.0 1328.0,782.1 1329.5,782.3 1331.0,782.4 1332.5,782.6 1334.0,784.6 1335.5,788.4 1337.0,790.3 1338.5,789.9 1340.0,788.9 1341.5,788.5 1343.0,788.7 1344.5,787.5 1346.0,785.1 1347.5,783.8 1349.0,783.7 1350.5,783.4 1352.0,783.3 1353.5,784.6 1355.0,787.3 1356.5,788.6 1358.0,788.2 1359.5,787.4 1361.0,787.0 1362.5,787.0 1364.0,787.0 1365.5,786.8 1367.0,786.2 1368.5,785.9 1370.0,785.9 1371.5,785.9 1373.0,785.9 1374.5,786.4 1376.0,787.1 1377.5,787.7 1379.0,789.5 1380.5,792.8 1382.0,794.6 1383.5,795.1 1385.0,794.9 1386.5,794.1 1388.0,793.9 1389.5,794.4 1391.0,794.8 1392.5,793.9 1394.0,791.6 1395.5,790.7 1397.0,791.2 1398.5,791.8 1400.0,792.6 1401.5,793.3 1403.0,793.7 1404.5,794.2 1406.0,794.1 1407.5,793.6 1409.0,793.5 1410.5,793.9 1412.0,795.0 1413.5,796.7 1415.0,797.8 1416.5,798.2 1418.0,798.6 1419.5,799.1 1421.0,799.1 1422.5,798.6 1424.0,798.6 1425.5,799.1 1427.0,799.5 1428.5,800.0 1430.0,800.4 1431.5,800.8 1433.0,800.2 1434.5,799.2 1436.0,798.6 1437.5,798.1 1439.0,797.6 1440.5,797.4 1442.0,797.8 1443.5,798.5 1445.0,799.5 1446.5,800.2 1448.0,801.7 1449.5,804.2 1451.0,805.6 1452.5,806.0 1454.0,806.4 1455.5,806.4 1457.0,805.7 1458.5,806.2 1460.0,808.0 1461.5,808.5 1463.0,807.7 1464.5,807.0 1466.0,804.0 1467.5,798.7 1469.0,795.7 1470.5,795.5 1472.0,795.3 1473.5,796.1 1475.0,797.9 1476.5,798.7 1478.0,798.5 1479.5,798.3 1481.0,798.1 1482.5,797.9 1484.0,797.6 1485.5,796.1 1487.0,793.3 1488.5,791.8 1490.0,791.6 1491.5,791.6 1493.0,791.6 1494.5,791.6 1496.0,791.6 1497.5,793.7 1499.0,798.0 1500.5,800.2 1502.0,800.4 1503.5,800.5 1505.0,800.7 1506.5,800.8 1508.0,801.0 1509.5,800.9 1511.0,800.6 1512.5,800.5 1514.0,800.6 1515.5,800.8 1517.0,800.9 1518.5,801.1 1520.0,799.9 1521.5,797.3 1523.0,796.1 1524.5,796.2 1526.0,796.4 1527.5,797.0 1529.0,798.0 1530.5,798.5 1532.0,798.5 1533.5,798.5 1535.0,798.5 1536.5,798.5 1538.0,798.5 1539.5,797.6 1541.0,795.6 1542.5,794.6 1544.0,794.6 1545.5,794.6 1547.0,794.6 1548.5,796.6 1550.0,800.5 1551.5,802.5 1553.0,802.5 1554.5,801.5 1556.0,799.3 1557.5,798.5 1559.0,799.0 1560.5,799.4 1562.0,799.9 1563.5,800.3 1565.0,802.2 1566.5,805.7 1568.0,807.6 1569.5,808.1 1571.0,806.7 1572.5,803.5 1574.0,802.2 1575.5,802.6 1577.0,803.1 1578.5,803.6 1580.0,804.3 1581.5,804.9 1583.0,805.2 1584.5,805.4 1586.0,805.7 1587.5,806.0 1589.0,806.3 1590.5,806.6 1592.0,806.9 1593.5,807.2 1595.0,806.8 1596.5,805.7 1598.0,805.3 1599.5,805.7 1601.0,806.0 1602.5,806.7 1604.0,807.9 1605.5,808.7 1607.0,809.0 1608.5,809.3 1610.0,809.1 1611.5,808.5 1613.0,808.4 1614.5,808.7 1616.0,808.6 1617.5,808.3 1619.0,808.0 1620.5,807.7 1622.0,808.5 1623.5,810.6 1625.0,811.4 1626.5,811.1 1628.0,809.6 1629.5,806.9 1631.0,805.3 1632.5,805.0 1634.0,804.7 1635.5,804.4 1637.0,804.1 1638.5,804.0 1640.0,804.2 1641.5,804.1 1643.0,803.8 1644.5,803.5 1646.0,803.3 1647.5,803.1 1649.0,802.9 1650.5,802.8 1652.0,802.6 1653.5,802.5 1655.0,802.3 1656.5,802.7 1658.0,803.7 1659.5,804.1 1661.0,804.0 1662.5,803.8 1664.0,803.7 1665.5,803.5 1667.0,803.4 1668.5,802.6 1670.0,801.3 1671.5,800.5 1673.0,801.0 1674.5,802.5 1676.0,803.2 1677.5,803.2 1679.0,803.2 1680.5,803.3 1682.0,803.3 1683.5,803.3 1685.0,802.5 1686.5,800.8 1688.0,800.0 1689.5,800.1 1691.0,800.2 1692.5,800.3 1694.0,800.2 1694.0,834.7 1692.5,832.9 1691.0,834.3 1689.5,836.9 1688.0,838.2 1686.5,838.2 1685.0,838.2 1683.5,838.1 1682.0,838.1 1680.5,837.2 1679.0,835.4 1677.5,834.5 1676.0,834.4 1674.5,834.4 1673.0,834.4 1671.5,834.9 1670.0,835.3 1668.5,836.2 1667.0,837.6 1665.5,838.5 1664.0,838.9 1662.5,839.4 1661.0,840.3 1659.5,841.7 1658.0,842.6 1656.5,843.0 1655.0,843.5 1653.5,843.9 1652.0,844.4 1650.5,844.4 1649.0,844.0 1647.5,844.1 1646.0,844.5 1644.5,845.0 1643.0,845.8 1641.5,847.2 1640.0,848.0 1638.5,848.2 1637.0,848.3 1635.5,848.5 1634.0,848.8 1632.5,849.2 1631.0,849.5 1629.5,849.6 1628.0,849.8 1626.5,847.9 1625.0,844.0 1623.5,842.1 1622.0,841.8 1620.5,841.2 1619.0,840.9 1617.5,841.0 1616.0,841.2 1614.5,841.2 1613.0,840.9 1611.5,842.2 1610.0,845.0 1608.5,846.2 1607.0,845.9 1605.5,845.9 1604.0,846.1 1602.5,846.1 1601.0,845.8 1599.5,845.5 1598.0,843.6 1596.5,840.2 1595.0,838.3 1593.5,840.1 1592.0,844.1 1590.5,845.9 1589.0,845.6 1587.5,845.3 1586.0,845.0 1584.5,842.9 1583.0,839.1 1581.5,837.0 1580.0,836.7 1578.5,836.5 1577.0,836.2 1575.5,835.9 1574.0,837.1 1572.5,839.9 1571.0,841.2 1569.5,839.1 1568.0,835.2 1566.5,833.1 1565.0,832.8 1563.5,832.3 1562.0,831.7 1560.5,831.3 1559.0,831.7 1557.5,832.8 1556.0,833.3 1554.5,833.3 1553.0,833.3 1551.5,833.3 1550.0,833.3 1548.5,833.3 1547.0,834.9 1545.5,838.2 1544.0,839.8 1542.5,839.8 1541.0,839.8 1539.5,839.8 1538.0,839.8 1536.5,839.8 1535.0,839.8 1533.5,839.7 1532.0,839.7 1530.5,839.7 1529.0,839.7 1527.5,839.7 1526.0,839.7 1524.5,838.7 1523.0,836.7 1521.5,835.8 1520.0,835.8 1518.5,835.8 1517.0,835.8 1515.5,836.7 1514.0,838.6 1512.5,839.5 1511.0,839.5 1509.5,838.4 1508.0,836.2 1506.5,835.1 1505.0,835.1 1503.5,835.1 1502.0,835.1 1500.5,836.3 1499.0,838.6 1497.5,839.8 1496.0,839.8 1494.5,839.7 1493.0,837.6 1491.5,833.3 1490.0,831.2 1488.5,831.9 1487.0,832.8 1485.5,833.6 1484.0,834.5 1482.5,835.3 1481.0,836.7 1479.5,838.7 1478.0,840.1 1476.5,841.0 1475.0,841.8 1473.5,842.6 1472.0,844.7 1470.5,848.1 1469.0,850.1 1467.5,850.1 1466.0,850.1 1464.5,850.1 1463.0,850.1 1461.5,850.1 1460.0,850.0 1458.5,849.9 1457.0,849.4 1455.5,848.6 1454.0,847.7 1452.5,846.0 1451.0,843.2 1449.5,841.4 1448.0,840.6 1446.5,839.8 1445.0,839.0 1443.5,838.1 1442.0,837.2 1440.5,836.3 1439.0,835.9 1437.5,835.9 1436.0,834.1 1434.5,830.7 1433.0,829.0 1431.5,830.3 1430.0,832.7 1428.5,833.6 1427.0,833.2 1425.5,832.7 1424.0,832.3 1422.5,831.9 1421.0,831.8 1419.5,831.5 1418.0,831.0 1416.5,830.6 1415.0,830.1 1413.5,829.6 1412.0,829.0 1410.5,828.5 1409.0,828.0 1407.5,826.9 1406.0,825.0 1404.5,823.8 1403.0,823.3 1401.5,822.6 1400.0,821.7 1398.5,821.0 1397.0,820.5 1395.5,820.1 1394.0,819.6 1392.5,819.2 1391.0,818.7 1389.5,817.7 1388.0,816.2 1386.5,815.2 1385.0,814.7 1383.5,815.8 1382.0,818.4 1380.5,819.4 1379.0,819.0 1377.5,818.5 1376.0,818.0 1374.5,817.6 1373.0,817.2 1371.5,817.9 1370.0,819.1 1368.5,819.8 1367.0,819.9 1365.5,820.1 1364.0,820.2 1362.5,820.4 1361.0,820.4 1359.5,820.4 1358.0,820.5 1356.5,820.9 1355.0,821.5 1353.5,821.9 1352.0,822.1 1350.5,822.2 1349.0,822.7 1347.5,823.4 1346.0,823.8 1344.5,823.9 1343.0,823.5 1341.5,823.2 1340.0,823.1 1338.5,823.3 1337.0,823.9 1335.5,824.1 1334.0,823.9 1332.5,823.8 1331.0,821.3 1329.5,816.4 1328.0,813.8 1326.5,813.7 1325.0,813.5 1323.5,813.4 1322.0,814.3 1320.5,816.2 1319.0,817.0 1317.5,816.9 1316.0,816.7 1314.5,816.7 1313.0,816.9 1311.5,817.1 1310.0,816.1 1308.5,813.8 1307.0,812.8 1305.5,813.0 1304.0,813.2 1302.5,813.4 1301.0,813.7 1299.5,816.2 1298.0,820.9 1296.5,823.4 1295.0,823.6 1293.5,823.9 1292.0,824.1 1290.5,824.6 1289.0,825.4 1287.5,825.9 1286.0,826.1 1284.5,825.8 1283.0,825.2 1281.5,824.6 1280.0,824.0 1278.5,823.6 1277.0,823.1 1275.5,822.7 1274.0,822.2 1272.5,821.8 1271.0,820.6 1269.5,818.9 1268.0,817.8 1266.5,817.3 1265.0,815.7 1263.5,812.7 1262.0,808.5 1260.5,805.5 1259.0,803.5 1257.5,801.4 1256.0,799.4 1254.5,797.6 1253.0,795.8 1251.5,794.0 1250.0,792.2 1248.5,790.4 1247.0,788.6 1245.5,787.1 1244.0,785.6 1242.5,786.3 1241.0,788.9 1239.5,789.6 1238.0,787.3 1236.5,784.0 1235.0,781.7 1233.5,781.1 1232.0,781.3 1230.5,780.7 1229.0,779.4 1227.5,778.0 1226.0,776.6 1224.5,773.7 1223.0,768.2 1221.5,760.8 1220.0,755.3 1218.5,751.5 1217.0,747.8 1215.5,744.0 1214.0,742.1 1212.5,742.0 1211.0,740.0 1209.5,736.3 1208.0,732.5 1206.5,728.2 1205.0,723.4 1203.5,719.1 1202.0,714.9 1200.5,707.4 1199.0,700.2 1197.5,693.4 1196.0,686.2 1194.5,678.7 1193.0,673.1 1191.5,667.7 1190.0,662.2 1188.5,656.8 1187.0,651.8 1185.5,647.3 1184.0,642.3 1182.5,636.3 1181.0,630.1 1179.5,623.9 1178.0,617.7 1176.5,611.7 1175.0,606.3 1173.5,600.2 1172.0,592.0 1170.5,583.9 1169.0,575.8 1167.5,567.6 1166.0,561.9 1164.5,555.1 1163.0,548.8 1161.5,544.6 1160.0,542.3 1158.5,542.7 1157.0,541.2 1155.5,537.8 1154.0,533.8 1152.5,529.8 1151.0,527.2 1149.5,525.3 1148.0,523.4 1146.5,521.5 1145.0,519.9 1143.5,518.5 1142.0,517.6 1140.5,516.8 1139.0,516.5 1137.5,516.8 1136.0,517.5 1134.5,518.3 1133.0,519.1 1131.5,520.0 1130.0,522.0 1128.5,522.2 1127.0,520.0 1125.5,520.2 1124.0,522.7 1122.5,525.8 1121.0,529.5 1119.5,534.5 1118.0,540.6 1116.5,546.0 1115.0,551.9 1113.5,558.7 1112.0,564.9 1110.5,570.9 1109.0,577.0 1107.5,581.8 1106.0,585.3 1104.5,588.2 1103.0,591.7 1101.5,595.4 1100.0,599.2 1098.5,603.0 1097.0,606.7 1095.5,609.6 1094.0,611.6 1092.5,614.5 1091.0,618.2 1089.5,623.3 1088.0,629.1 1086.5,635.6 1085.0,640.1 1083.5,643.9 1082.0,647.6 1080.5,651.4 1079.0,655.1 1077.5,659.9 1076.0,665.5 1074.5,670.2 1073.0,672.3 1071.5,674.0 1070.0,675.8 1068.5,677.5 1067.0,679.3 1065.5,681.3 1064.0,683.7 1062.5,685.7 1061.0,688.1 1059.5,691.0 1058.0,691.8 1056.5,694.2 1055.0,695.9 1053.5,698.1 1052.0,700.8 1050.5,703.0 1049.0,704.3 1047.5,705.7 1046.0,708.5 1044.5,712.6 1043.0,715.4 1041.5,716.8 1040.0,718.1 1038.5,719.5 1037.0,720.8 1035.5,722.4 1034.0,721.8 1032.5,719.2 1031.0,718.7 1029.5,720.3 1028.0,722.0 1026.5,723.6 1025.0,727.2 1023.5,732.7 1022.0,736.2 1020.5,737.7 1019.0,739.2 1017.5,740.7 1016.0,742.1 1014.5,743.6 1013.0,744.5 1011.5,744.8 1010.0,745.7 1008.5,747.0 1007.0,747.6 1005.5,747.4 1004.0,746.3 1002.5,746.1 1001.0,746.7 999.5,747.3 998.0,748.0 996.5,748.7 995.0,749.3 993.5,749.8 992.0,750.2 990.5,751.3 989.0,753.0 987.5,754.1 986.0,755.1 984.5,756.5 983.0,757.4 981.5,757.9 980.0,758.2 978.5,758.3 977.0,758.6 975.5,759.2 974.0,759.8 972.5,760.5 971.0,761.1 969.5,761.7 968.0,760.8 966.5,757.9 965.0,755.9 963.5,755.5 962.0,755.0 960.5,754.6 959.0,754.1 957.5,754.1 956.0,754.5 954.5,754.4 953.0,753.9 951.5,754.8 950.0,757.5 948.5,758.4 947.0,757.5 945.5,756.6 944.0,755.4 942.5,753.9 941.0,752.8 939.5,751.9 938.0,751.1 936.5,750.3 935.0,750.1 933.5,750.4 932.0,750.1 930.5,749.4 929.0,748.6 927.5,747.8 926.0,746.5 924.5,744.8 923.0,743.8 921.5,743.4 920.0,743.4 918.5,744.0 917.0,744.1 915.5,743.6 914.0,743.2 912.5,742.7 911.0,741.4 909.5,738.2 908.0,734.5 906.5,731.3 905.0,728.5 903.5,723.7 902.0,716.7 900.5,711.9 899.0,709.1 897.5,706.8 896.0,705.7 894.5,704.6 893.0,703.6 891.5,705.1 890.0,709.3 888.5,710.8 887.0,709.8 885.5,708.7 884.0,707.7 882.5,705.1 881.0,700.9 879.5,698.4 878.0,698.3 876.5,698.9 875.0,698.8 873.5,697.5 872.0,695.7 870.5,694.4 869.0,691.9 867.5,688.4 866.0,685.3 864.5,682.6 863.0,679.5 861.5,676.0 860.0,673.3 858.5,672.3 857.0,671.4 855.5,670.5 854.0,669.5 852.5,668.6 851.0,667.7 849.5,666.0 848.0,663.7 846.5,662.1 845.0,661.3 843.5,660.6 842.0,659.8 840.5,659.1 839.0,658.3 837.5,657.2 836.0,655.8 834.5,654.7 833.0,654.0 831.5,652.8 830.0,651.4 828.5,650.1 827.0,649.4 825.5,649.4 824.0,648.7 822.5,647.4 821.0,646.1 819.5,644.7 818.0,645.0 816.5,647.0 815.0,647.6 813.5,646.9 812.0,646.3 810.5,643.8 809.0,639.3 807.5,636.8 806.0,636.3 804.5,637.7 803.0,641.0 801.5,642.4 800.0,641.7 798.5,641.0 797.0,641.2 795.5,642.2 794.0,643.3 792.5,644.4 791.0,646.8 789.5,649.7 788.0,651.3 786.5,651.0 785.0,650.3 783.5,650.1 782.0,650.4 780.5,650.7 779.0,651.0 777.5,651.4 776.0,652.7 774.5,654.2 773.0,654.9 771.5,655.0 770.0,655.7 768.5,657.0 767.0,658.4 765.5,659.7 764.0,661.0 762.5,662.6 761.0,664.2 759.5,666.3 758.0,669.0 756.5,671.7 755.0,674.4 753.5,677.1 752.0,681.3 750.5,687.1 749.0,691.2 747.5,693.6 746.0,695.9 744.5,698.3 743.0,700.7 741.5,703.1 740.0,704.1 738.5,703.9 737.0,705.0 735.5,707.4 734.0,710.6 732.5,713.8 731.0,717.0 729.5,720.2 728.0,722.9 726.5,725.2 725.0,728.0 723.5,731.2 722.0,734.4 720.5,737.6 719.0,741.1 717.5,745.5 716.0,748.6 714.5,750.4 713.0,752.2 711.5,754.0 710.0,755.8 708.5,757.5 707.0,759.4 705.5,761.1 704.0,763.6 702.5,766.5 701.0,768.9 699.5,771.3 698.0,773.6 696.5,776.0 695.0,779.0 693.5,782.6 692.0,785.5 690.5,787.9 689.0,790.2 687.5,792.6 686.0,794.9 684.5,797.6 683.0,800.6 681.5,803.3 680.0,805.5 678.5,806.8 677.0,807.0 675.5,808.2 674.0,810.5 672.5,813.7 671.0,817.9 669.5,821.2 668.0,821.5 666.5,819.7 665.0,820.0 663.5,822.4 662.0,825.2 660.5,828.4 659.0,831.2 657.5,833.2 656.0,834.8 654.5,836.8 653.0,839.1 651.5,840.6 650.0,842.0 648.5,846.0 647.0,852.4 645.5,856.3 644.0,857.8 642.5,859.3 641.0,860.8 639.5,862.2 638.0,863.8 636.5,865.4 635.0,867.0 633.5,868.6 632.0,870.1 630.5,871.2 629.0,871.9 627.5,872.4 626.0,873.3 624.5,872.5 623.0,869.9 621.5,869.0 620.0,869.9 618.5,870.8 617.0,871.7 615.5,874.5 614.0,879.5 612.5,882.6 611.0,884.0 609.5,885.5 608.0,886.9 606.5,887.4 605.0,887.2 603.5,887.7 602.0,888.9 600.5,890.0 599.0,891.0 597.5,892.3 596.0,894.1 594.5,895.5 593.0,896.4 591.5,897.3 590.0,898.2 588.5,899.1 587.0,900.1 585.5,901.4 584.0,902.7 582.5,904.1 581.0,905.4 579.5,906.7 578.0,908.1 576.5,908.1 575.0,906.8 573.5,906.8 572.0,908.1 570.5,909.5 569.0,909.7 567.5,908.9 566.0,909.1 564.5,910.5 563.0,911.8 561.5,913.1 560.0,914.5 558.5,919.0 557.0,926.6 555.5,931.5 554.0,933.6 552.5,935.7 551.0,937.0 549.5,937.5 548.0,938.8 546.5,940.9 545.0,942.5 543.5,942.0 542.0,940.2 540.5,939.6 539.0,942.0 537.5,946.1 536.0,948.5 534.5,948.5 533.0,947.9 531.5,947.9 530.0,949.2 528.5,950.4 527.0,951.6 525.5,952.8 524.0,954.0 522.5,954.0 521.0,952.9 519.5,952.9 518.0,954.1 516.5,955.4 515.0,958.1 513.5,962.0 512.0,964.6 510.5,965.9 509.0,967.3 507.5,968.6 506.0,969.0 504.5,968.4 503.0,968.6 501.5,969.7 500.0,970.8 498.5,971.8 497.0,972.9 495.5,974.0 494.0,976.8 492.5,981.4 491.0,984.3 489.5,984.5 488.0,983.7 486.5,983.6 485.0,984.2 483.5,983.6 482.0,981.7 480.5,981.1 479.0,983.6 477.5,987.9 476.0,990.4 474.5,991.0 473.0,991.8 471.5,992.5 470.0,991.7 468.5,989.3 467.0,988.4 465.5,989.2 464.0,989.9 462.5,991.3 461.0,992.9 459.5,993.8 458.0,994.1 456.5,994.4 455.0,994.7 453.5,995.1 452.0,995.7 450.5,996.2 449.0,996.7 447.5,997.2 446.0,997.8 444.5,998.4 443.0,997.8 441.5,995.8 440.0,995.1 438.5,997.5 437.0,1002.0 435.5,1005.1 434.0,1006.5 432.5,1007.7 431.0,1008.6 429.5,1009.8 428.0,1011.2 426.5,1012.5 425.0,1013.9 423.5,1015.8 422.0,1018.1 420.5,1020.6 419.0,1022.8 417.5,1024.7 416.0,1026.7 414.5,1028.6 413.0,1030.6 411.5,1031.8 410.0,1031.5 408.5,1030.2 407.0,1029.9 405.5,1030.6 404.0,1031.4 402.5,1033.0 401.0,1035.4 399.5,1037.1 398.0,1038.2 396.5,1039.4 395.0,1040.4 393.5,1041.3 392.0,1042.3 390.5,1043.2 389.0,1044.1 387.5,1045.4 386.0,1046.7 384.5,1047.6 383.0,1048.2 381.5,1048.8 380.0,1049.4 378.5,1050.0 377.0,1049.1 375.5,1046.6 374.0,1046.0 372.5,1047.2 371.0,1049.4 369.5,1052.7 368.0,1054.9 366.5,1056.0 365.0,1057.2 363.5,1058.4 362.0,1059.2 360.5,1059.4 359.0,1059.9 357.5,1060.8 356.0,1061.7 354.5,1062.6 353.0,1063.5 351.5,1064.4 350.0,1066.3 348.5,1067.9 347.0,1068.4 345.5,1065.6 344.0,1060.4 342.5,1057.5 341.0,1056.9 339.5,1056.3 338.0,1057.6 336.5,1061.3 335.0,1063.2 333.5,1063.2 332.0,1063.2 330.5,1063.2 329.0,1063.2 327.5,1063.1 326.0,1063.1 324.5,1062.9 323.0,1062.5 321.5,1062.1 320.0,1061.6 318.5,1061.2 317.0,1059.6 315.5,1056.7 314.0,1056.1 312.5,1058.0 311.0,1057.9 309.5,1057.8 308.0,1057.6 306.5,1057.5 305.0,1056.0"/>
</g>
<!-- frame -->
<g stroke="#000" stroke-width="13" fill="none" stroke-linecap="butt">
<path d="M1690 67.5 H304.5 V1197 H1690"/>
</g>
<g fill="#000">
<rect x="646.5" y="1171.0" width="12" height="24.0" rx="3"/><rect x="646.5" y="69.0" width="12" height="25.0" rx="3"/><rect x="994.2" y="1171.0" width="12" height="24.0" rx="3"/><rect x="994.2" y="69.0" width="12" height="25.0" rx="3"/><rect x="1341.9" y="1171.0" width="12" height="24.0" rx="3"/><rect x="1341.9" y="69.0" width="12" height="25.0" rx="3"/><rect x="472.6" y="1181.0" width="12" height="14.0" rx="3"/><rect x="472.6" y="69.0" width="12" height="15.0" rx="3"/><rect x="820.4" y="1181.0" width="12" height="14.0" rx="3"/><rect x="820.4" y="69.0" width="12" height="15.0" rx="3"/><rect x="1168.0" y="1181.0" width="12" height="14.0" rx="3"/><rect x="1168.0" y="69.0" width="12" height="15.0" rx="3"/><rect x="1515.8" y="1181.0" width="12" height="14.0" rx="3"/><rect x="1515.8" y="69.0" width="12" height="15.0" rx="3"/><rect x="308.0" y="383.8" width="23.0" height="12" rx="3"/><rect x="308.0" y="707.1" width="23.0" height="12" rx="3"/><rect x="308.0" y="1030.4" width="23.0" height="12" rx="3"/><rect x="308.0" y="222.2" width="13.0" height="12" rx="3"/><rect x="308.0" y="545.5" width="13.0" height="12" rx="3"/><rect x="308.0" y="868.8" width="13.0" height="12" rx="3"/>
</g>
<g fill="#f00">
<rect x="1669.0" y="61.2" width="24.0" height="12" rx="3"/><rect x="1669.0" y="344.3" width="24.0" height="12" rx="3"/><rect x="1669.0" y="627.4" width="24.0" height="12" rx="3"/><rect x="1669.0" y="910.5" width="24.0" height="12" rx="3"/><rect x="1669.0" y="1193.6" width="24.0" height="12" rx="3"/><rect x="1679.0" y="202.8" width="14.0" height="12" rx="3"/><rect x="1679.0" y="485.9" width="14.0" height="12" rx="3"/><rect x="1679.0" y="769.0" width="14.0" height="12" rx="3"/><rect x="1679.0" y="1052.0" width="14.0" height="12" rx="3"/>
</g>
<path d="M1689.3 61 H1699 Q1703.6 61 1703.6 65.5 V1199 Q1703.6 1203.6 1699 1203.6 H1689.3 Z" fill="#f00"/>
<!-- tick labels -->
<g font-family="'Liberation Sans', Arial, sans-serif" font-weight="bold" font-size="65">
<text x="304.8" y="1272" text-anchor="middle">1000</text><text x="652.5" y="1272" text-anchor="middle">1250</text><text x="1000.2" y="1272" text-anchor="middle">1500</text><text x="1347.9" y="1272" text-anchor="middle">1750</text><text x="1695.6" y="1272" text-anchor="middle">2000</text><text x="281.5" y="84.8" text-anchor="end">2000</text><text x="281.5" y="408.1" text-anchor="end">1500</text><text x="281.5" y="731.4" text-anchor="end">1000</text><text x="281.5" y="1054.7" text-anchor="end">500</text>
</g>
<g font-family="'Liberation Sans', Arial, sans-serif" font-weight="bold" font-size="65" fill="#f00">
<text x="1719" y="85.0">14000</text><text x="1719" y="368.1">12000</text><text x="1719" y="651.2">10000</text><text x="1719" y="934.3">8000</text><text x="1719" y="1217.4">6000</text>
</g>
<!-- axis titles -->
<text font-family="'Liberation Sans', Arial, sans-serif" font-weight="bold" font-size="88" transform="translate(96.5 1140) rotate(-90)" textLength="907" lengthAdjust="spacing">Raman Intensity (a. u.)</text>
<text font-family="'Liberation Sans', Arial, sans-serif" font-weight="bold" font-size="88" fill="#f00" transform="translate(1936.5 231) rotate(90)" textLength="907" lengthAdjust="spacing">Raman Intensity (a. u.)</text>
<g font-family="'Liberation Sans', Arial, sans-serif" font-weight="bold" font-size="85">
<text x="643" y="1398">Frequency (cm<tspan x="1250" y="1370">-1</tspan><tspan x="1328" y="1398">)</tspan></text>
</g>
<!-- annotations -->
<g font-family="'Liberation Sans', Arial, sans-serif" font-weight="bold">
<text font-size="70"><tspan x="346" y="438">I</tspan><tspan x="364.7" y="466.5" font-size="39">D</tspan><tspan x="395" y="438">/I</tspan><tspan x="433" y="466.5" font-size="39">G</tspan><tspan x="466.5" y="438" font-size="68" letter-spacing="0.7"> Ratio = 1.05</tspan></text>
</g>
<g font-family="'Liberation Sans', Arial, sans-serif" font-weight="bold" fill="#f00">
<text font-size="70"><tspan x="1126" y="433">I</tspan><tspan x="1144.7" y="461" font-size="39">D</tspan><tspan x="1175" y="433">/I</tspan><tspan x="1213" y="461" font-size="39">G</tspan><tspan x="1246.5" y="433" font-size="68" letter-spacing="0.7"> Ratio = 0.92</tspan></text>
</g>
<g font-family="'Liberation Sans', Arial, sans-serif" font-weight="bold" font-size="67" letter-spacing="1.5" fill="#00f">
<text x="1261" y="580" letter-spacing="2.3">Higher</text>
<text x="1262" y="666">Quality</text>
</g>
<g><rect x="235.1" y="1262.9" width="12.5" height="10.1" fill="#fff"/><rect x="256.4" y="1262.9" width="12.3" height="10.1" fill="#fff"/><rect x="582.8" y="1262.9" width="12.5" height="10.1" fill="#fff"/><rect x="604.1" y="1262.9" width="12.3" height="10.1" fill="#fff"/><rect x="930.5" y="1262.9" width="12.5" height="10.1" fill="#fff"/><rect x="951.8" y="1262.9" width="12.3" height="10.1" fill="#fff"/><rect x="1278.2" y="1262.9" width="12.5" height="10.1" fill="#fff"/><rect x="1299.5" y="1262.9" width="12.3" height="10.1" fill="#fff"/><rect x="139.5" y="399.0" width="12.5" height="10.1" fill="#fff"/><rect x="160.8" y="399.0" width="12.3" height="10.1" fill="#fff"/><rect x="139.5" y="722.3" width="12.5" height="10.1" fill="#fff"/><rect x="160.8" y="722.3" width="12.3" height="10.1" fill="#fff"/><rect x="1721.6" y="75.9" width="12.5" height="10.1" fill="#fff"/><rect x="1742.9" y="75.9" width="12.3" height="10.1" fill="#fff"/><rect x="1721.6" y="359.0" width="12.5" height="10.1" fill="#fff"/><rect x="1742.9" y="359.0" width="12.3" height="10.1" fill="#fff"/><rect x="1721.6" y="642.1" width="12.5" height="10.1" fill="#fff"/><rect x="1742.9" y="642.1" width="12.3" height="10.1" fill="#fff"/><rect x="1281.7" y="1358.1" width="16.3" height="13.2" fill="#fff"/><rect x="1309.6" y="1358.1" width="16.1" height="13.2" fill="#fff"/><rect x="741.9" y="428.5" width="13.1" height="10.5" fill="#fff"/><rect x="764.2" y="428.5" width="12.9" height="10.5" fill="#fff"/></g>
<!-- arrows -->
<path d="M525.3 894 C473.3 753.3 426.3 680.9 483 543" fill="none" stroke="#000" stroke-width="13" stroke-linecap="round"/>
<polygon points="509,478 520.5,478 503,551 462,533 462,526" fill="#000" stroke="#000" stroke-width="2" stroke-linejoin="round"/>
<path d="M1517.6 770.6 Q1555 669.6 1547 540" fill="none" stroke="#f00" stroke-width="13" stroke-linecap="round"/>
<polygon points="1519,466 1526,460.5 1567,524 1567,529.5 1526.5,541 1522.5,537" fill="#f00" stroke="#f00" stroke-width="2" stroke-linejoin="round"/>
</svg>
</body></html>
